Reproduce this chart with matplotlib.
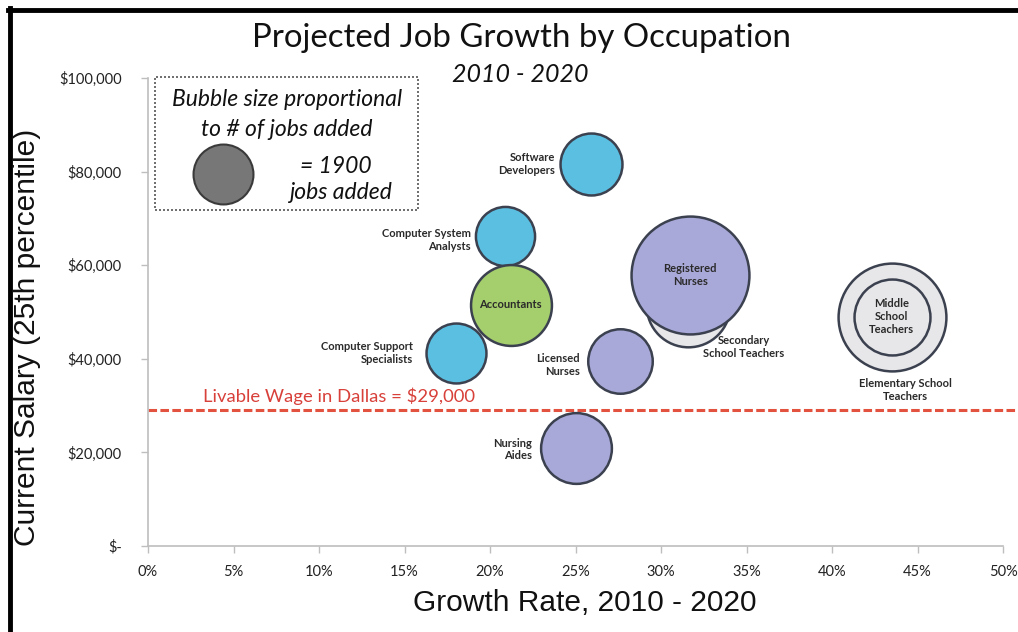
import matplotlib
matplotlib.use("Agg")
import matplotlib.pyplot as plt
from matplotlib.patches import Rectangle
from matplotlib.lines import Line2D

# ---- data ----
occupations = ["Elementary School\nTeachers", "Middle\nSchool\nTeachers",
               "Secondary\nSchool Teachers", "Registered\nNurses",
               "Software\nDevelopers", "Computer System\nAnalysts", "Accountants",
               "Computer Support\nSpecialists", "Licensed\nNurses", "Nursing\nAides"]
growth_pct = [43.5, 43.5, 31.6, 31.7, 25.9, 20.9, 21.2, 18.0, 27.6, 25.0]
salary = [49000, 49000, 51500, 57900, 81600, 66300, 51500, 41200, 39500, 20900]
jobs_added = [6150, 3050, 3700, 7350, 2030, 1850, 3460, 1900, 2200, 2650]
groups = ["teach", "teach", "teach", "health", "tech", "tech", "fin", "tech", "health", "health"]
legend_jobs = 1900
livable_wage = 29000
x_ticks = [0, 5, 10, 15, 20, 25, 30, 35, 40, 45, 50]
y_ticks = [0, 20000, 40000, 60000, 80000, 100000]
y_tick_labels = ["$-", "$20,000", "$40,000", "$60,000", "$80,000", "$100,000"]

colors = {"teach": "#E7E7E9", "health": "#A9A9D9", "tech": "#5BBFE1", "fin": "#A5CF6C"}
edge = "#3C4150"

# label placement (offset in points, alignment)
label_pos = {
    0: (10, -53, "center"),
    1: (0, 0, "center"),
    2: (40, -30, "center"),
    3: (0, 0, "center"),
    4: (-26, 0, "right"),
    5: (-25, -3, "right"),
    6: (0, 0, "center"),
    7: (-31, 0, "right"),
    8: (-29, -3, "right"),
    9: (-31, -1, "right"),
}

W, H = 1018, 632
fig = plt.figure(figsize=(W / 100, H / 100), dpi=100)
fig.patch.set_facecolor("white")

def fx(x):
    return x / W

def fy(y):
    return 1 - y / H

ax = fig.add_axes([fx(148), fy(546), (1003 - 148) / W, (546 - 78) / H])
ax.set_xlim(0, 50)
ax.set_ylim(0, 100000)
for s in ["top", "right"]:
    ax.spines[s].set_visible(False)
for s in ["left", "bottom"]:
    ax.spines[s].set_color("#BEBEBE")
    ax.spines[s].set_linewidth(1.2)
ax.set_xticks(x_ticks)
ax.set_xticklabels([f"{t}%" for t in x_ticks])
ax.set_yticks(y_ticks)
ax.set_yticklabels(y_tick_labels)
ax.tick_params(axis="both", color="#BEBEBE", length=5, width=1, labelsize=10.5,
               labelcolor="#222222")
ax.tick_params(axis="x", pad=9)
ax.tick_params(axis="y", pad=14)
for lab in ax.get_xticklabels() + ax.get_yticklabels():
    lab.set_family("Lato")

scale = 0.98  # points^2 per job (matches legend bubble)
for i in range(len(occupations)):
    ax.scatter(growth_pct[i], salary[i], s=jobs_added[i] * scale,
               color=colors[groups[i]], edgecolor=edge, linewidth=1.8, zorder=3 + i)
    dx, dy, ha = label_pos[i]
    ax.annotate(occupations[i], (growth_pct[i], salary[i]), xytext=(dx, dy),
                textcoords="offset points", ha=ha, va="center", fontsize=8,
                family="Lato", weight="bold", color="#2A2A2A",
                linespacing=1.2, zorder=20)

# livable wage line (runs to the right edge of the picture)
ax.axhline(livable_wage, xmin=0, xmax=1.02, color="#E3513F", linewidth=2.2,
           dashes=(2.8, 1.1), zorder=2, clip_on=False)
ax.text(3.2, livable_wage + 3000, "Livable Wage in Dallas = $29,000",
        color="#D8403A", fontsize=13.3, family="Lato", va="center", ha="left")

# legend box
fig.patches.append(Rectangle((fx(155), fy(210)), (418 - 155) / W, (210 - 77) / H,
                             transform=fig.transFigure, fill=False,
                             edgecolor="#555555", linestyle=(0, (1.2, 1.2)),
                             linewidth=1.2))
legend_font = dict(ha="center", va="center", fontsize=16.5, style="italic",
                   family="Lato", color="#111111")
fig.text(fx(287), fy(100), "Bubble size proportional", **legend_font)
fig.text(fx(287), fy(130), "to # of jobs added", **legend_font)
fig.text(fx(336), fy(166), "= 1900", **legend_font)
fig.text(fx(340), fy(192), "jobs added", **legend_font)
lax = fig.add_axes([0, 0, 1, 1], facecolor="none")
lax.set_xlim(0, W)
lax.set_ylim(H, 0)
lax.axis("off")
lax.scatter([223], [174], s=legend_jobs * scale, color="#777777",
            edgecolor="#3A3A3A", linewidth=1.5)

# titles
fig.text(fx(521), fy(38), "Projected Job Growth by Occupation", ha="center",
         va="center", fontsize=23.8, family="Lato", color="#111111")
fig.text(fx(520), fy(75), "2010 - 2020", ha="center", va="center",
         fontsize=18, style="italic", family="Lato", color="#111111")

# axis labels
fig.text(fx(585), fy(603), "Growth Rate, 2010 - 2020", ha="center", va="center",
         fontsize=21.5, family="Liberation Sans", color="#111111")
fig.text(fx(27), fy(337), "Current Salary (25th percentile)", ha="center",
         va="center", rotation=90, fontsize=21.5, family="Liberation Sans",
         color="#111111")

# black frame (top and left)
fig.lines.append(Line2D([fx(8), 1], [fy(9.5), fy(9.5)], transform=fig.transFigure,
                        color="black", linewidth=3.5))
fig.lines.append(Line2D([fx(10), fx(10)], [fy(8), 0], transform=fig.transFigure,
                        color="black", linewidth=3.5))

fig.savefig("out.png", dpi=100, facecolor="white")
